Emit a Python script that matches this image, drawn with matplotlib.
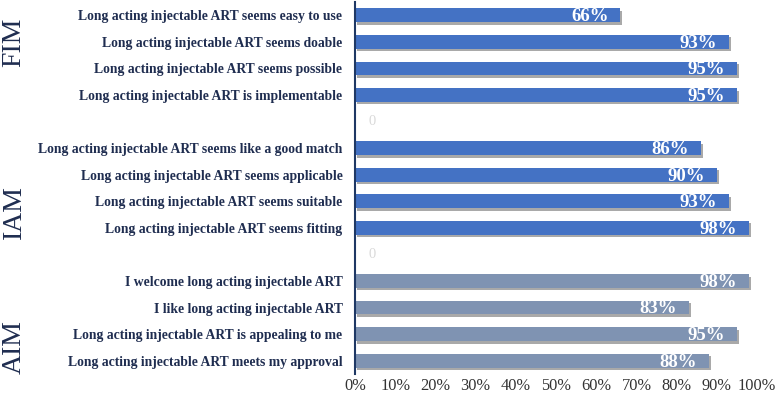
import matplotlib
matplotlib.use("Agg")
import matplotlib.pyplot as plt
import matplotlib.patheffects as pe

categories = [
    "Long acting injectable ART seems easy to use",
    "Long acting injectable ART seems doable",
    "Long acting injectable ART seems possible",
    "Long acting injectable ART is implementable",
    "",
    "Long acting injectable ART seems like a good match",
    "Long acting injectable ART seems applicable",
    "Long acting injectable ART seems suitable",
    "Long acting injectable ART seems fitting",
    "",
    "I welcome long acting injectable ART",
    "I like long acting injectable ART",
    "Long acting injectable ART is appealing to me",
    "Long acting injectable ART meets my approval",
]
values = [66, 93, 95, 95, 0, 86, 90, 93, 98, 0, 98, 83, 95, 88]
groups = ["FIM"] * 5 + ["IAM"] * 5 + ["AIM"] * 4
group_names = ["FIM", "IAM", "AIM"]
xticks = [0, 10, 20, 30, 40, 50, 60, 70, 80, 90, 100]

colors = {"FIM": "#4472C4", "IAM": "#4472C4", "AIM": "#7F93B2"}

fig = plt.figure(figsize=(7.77, 4.01), dpi=100)
ax = fig.add_axes([355 / 777, 1 - 374 / 401, 402 / 777, 372 / 401])

serif = ["Liberation Serif", "DejaVu Serif"]
ys = list(range(len(values)))
bars = ax.barh(ys, values, height=0.52,
               color=[colors[g] for g in groups], zorder=2)
for b in bars:
    b.set_path_effects([pe.SimplePatchShadow(offset=(1.5, -1.8), alpha=0.45,
                                             shadow_rgbFace="#404040"),
                        pe.Normal()])

for y, v in zip(ys, values):
    if v > 0:
        ax.annotate(f"{v}%", xy=(v, y), xytext=(-8.5, -1), textcoords="offset points",
                    ha="right", va="center", color="white", fontsize=13.5,
                    fontweight="bold", family=serif)
    else:
        ax.annotate("0", xy=(0, y), xytext=(10, 0), textcoords="offset points",
                    ha="left", va="center", color="#d9d9d9", fontsize=10.5,
                    family=serif)

ax.set_ylim(len(values) - 0.5, -0.5)
ax.set_xlim(0, 100)
ax.set_yticks(ys)
ax.set_yticklabels(categories, family=serif, fontweight="bold", fontsize=9.8,
                   color="#1F2D50")
ax.set_xticks(xticks)
ax.set_xticklabels([f"{t}%" for t in xticks], family=serif, fontsize=11.8,
                   color="#333333")
ax.tick_params(axis="y", length=0, pad=9)
ax.tick_params(axis="x", length=0, pad=3)
for s in ["top", "right", "bottom"]:
    ax.spines[s].set_visible(False)
ax.spines["left"].set_color("#1F3864")
ax.spines["left"].set_linewidth(1.5)

# group labels
group_centers = {"FIM": 42, "IAM": 212, "AIM": 347}
for name in group_names:
    fig.text(14 / 777, 1 - group_centers[name] / 401, name, rotation=90,
             ha="center", va="center", fontsize=20, family=serif,
             color="#1F2D50")

fig.savefig("out.png", dpi=100)
